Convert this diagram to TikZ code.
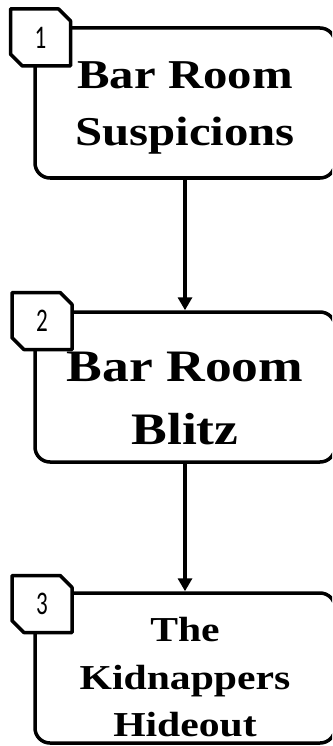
\documentclass[tikz,border=0pt]{standalone}
\usepackage{fontspec}
\setmainfont[FakeStretch=1.19]{Liberation Serif}
\newfontfamily\badgefont[FakeStretch=0.7]{Carlito}
\usetikzlibrary{arrows.meta,shapes.misc}

\begin{document}
\begin{tikzpicture}[x=1pt,y=-1pt,line join=round,line cap=round,>={Triangle[length=13pt,width=14pt]},line width=3.5pt]
    \tikzset{scene box/.style={draw,rounded corners=15pt,minimum width=300pt,minimum height=150pt,inner sep=0pt},
        scene text/.style={align=center,inner sep=0pt,font=\bfseries},
        badge box/.style={draw,fill=white,chamfered rectangle,chamfered rectangle corners={north east,south west},
            chamfered rectangle xsep=6pt,chamfered rectangle ysep=6pt,minimum width=60pt,minimum height=57pt,inner sep=0pt,
            font=\badgefont\fontsize{33}{33}\selectfont}}
    \useasboundingbox (0,0) rectangle (332,746);
    \clip (0,0) rectangle (332,746);
    % scenes
    \node[scene box] (s1) at (185,103) {};
    \node[scene box] (s2) at (185,387) {};
    \node[scene box] (s3) at (185,668) {};
    \node[scene text,font=\bfseries\fontsize{41}{57}\selectfont] (s1 text) at (185,107.5) {Bar Room\\Suspicions};
    \node[scene text,font=\bfseries\fontsize{45}{63}\selectfont] (s2 text) at (185,398.5) {Bar Room\\Blitz};
    \node[scene text,font=\bfseries\fontsize{35}{47.5}\selectfont] (s3 text) at (185,677.5) {The\\Kidnappers\\Hideout};
    % numbers
    \node[badge box] (b1) at (40.5,37.5) {1};
    \node[badge box] (b2) at (42,321) {2};
    \node[badge box] (b3) at (42,604) {3};
    \draw[->] (s1) -- (s2);
    \draw[->] (s2) -- (s3);
\end{tikzpicture}
\end{document}
